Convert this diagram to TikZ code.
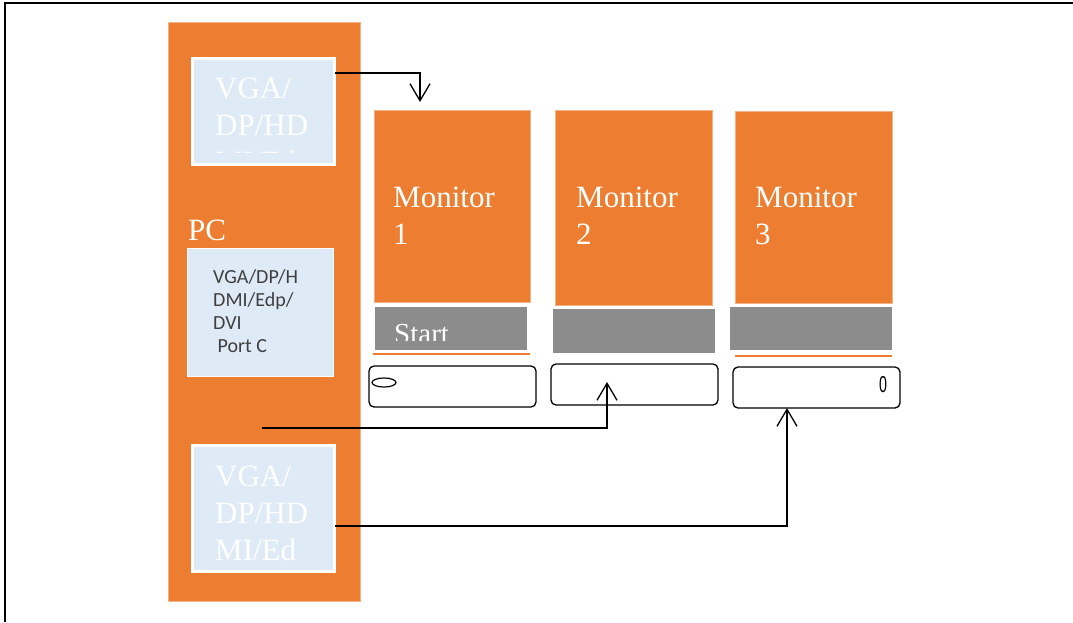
\documentclass[tikz,border=0pt]{standalone}
\usepackage{fontspec}
\usepackage{xcolor}
\usepackage{tikz}
\usetikzlibrary{shapes.geometric,arrows.meta,positioning,calc}
\setmainfont{Liberation Serif}
\newfontfamily\portfont{Carlito}
\newfontfamily\zerofont{Liberation Sans}
\definecolor{BlockOrange}{HTML}{ED7D31}
\definecolor{EdgeOrange}{HTML}{F4B183}
\definecolor{SoftBlue}{HTML}{DEEBF7}
\definecolor{BarGray}{HTML}{8C8C8C}
\definecolor{PortInk}{HTML}{3F3F3F}
\tikzset{
  OB/.style={rectangle,anchor=north west,inner sep=0pt,outer sep=0pt,
             fill=BlockOrange,draw=EdgeOrange,line width=0.6pt},
  VB/.style={rectangle,anchor=north west,inner sep=0pt,outer sep=0pt,
             fill=SoftBlue,draw=white,line width=3.2pt},
  GB/.style={rectangle,anchor=north west,inner sep=0pt,outer sep=0pt,
             fill=BarGray},
  KB/.style={rectangle,anchor=north west,inner sep=0pt,outer sep=0pt,
             rounded corners=5pt,draw=black,line width=1.3pt,
             minimum width=167pt,minimum height=41pt},
  WT/.style={anchor=base west,inner sep=0pt,align=left,text=white,
             font=\fontsize{31}{37}\selectfont},
  PT/.style={anchor=base west,inner sep=0pt,align=left,text=PortInk,
             font=\portfont\fontsize{20}{23}\selectfont},
  OL/.style={draw=BlockOrange,line width=2pt},
  arr/.style={-{Straight Barb[length=17pt,width=20pt,line width=1.3pt]},line width=1.3pt}
}
\begin{document}
\begin{tikzpicture}[x=1pt,y=-1pt]
  \useasboundingbox (0,0) rectangle (1073,622);
  \draw[line width=2.6pt] (5,622) -- (5,3) -- (1073,3);

  % PC column
  \node[OB,minimum width=192pt,minimum height=579pt] (pc) at (168,22) {};
  \node[VB,minimum width=142pt,minimum height=106pt] (vgaA) at (192.5,58.5) {};
  \node[rectangle,anchor=north west,inner sep=0pt,outer sep=0pt,fill=SoftBlue,
        draw=white,line width=0.8pt,minimum width=146pt,minimum height=128pt] (port) at (187,248) {};
  \node[VB,minimum width=142pt,minimum height=126pt] (vgaC) at (192.5,445.5) {};
  % base anchor sits on the last line
  \begin{scope}
    \clip (vgaA.north west) rectangle ([yshift=12pt]vgaA.south east);
    \node[WT] (vgaAtxt) at (215,172) {VGA/\\DP/HD\\MI/Ed};
  \end{scope}
  \node[WT] (vgaCtxt) at (215,560) {VGA/\\DP/HD\\MI/Ed};
  \node[WT] (pctxt) at (188,240) {PC};
  \node[PT] (porttxt) at (213,352) {VGA/DP/H\\DMI/Edp/\\DVI\\\ Port C};

  % monitors
  \node[OB,minimum width=156pt,minimum height=192pt] (monA) at (374,110) {};
  \node[OB,minimum width=157pt,minimum height=195pt] (monB) at (555,110) {};
  \node[OB,minimum width=157pt,minimum height=192pt] (monC) at (735,111) {};
  \node[WT] (monAtxt) at (393,244) {Monitor\\1};
  \node[WT] (monBtxt) at (576,244) {Monitor\\2};
  \node[WT] (monCtxt) at (755,244) {Monitor\\3};

  \node[GB,minimum width=152pt,minimum height=43pt] (barA) at (375,307) {};
  \node[GB,minimum width=162pt,minimum height=44pt] (barB) at (553,309) {};
  \node[GB,minimum width=162pt,minimum height=43pt] (barC) at (730,307) {};
  \begin{scope}
    \clip (barA.north west) rectangle ([yshift=10pt]barA.south east);
    \node[WT,font=\fontsize{29}{35}\selectfont] (starttxt) at (394,343) {Start};
  \end{scope}
  \draw[OL] (373,354) -- (530,354);
  \draw[OL] (735,356) -- (892,356);

  \node[KB] (knobA) at (369,366) {};
  \node[KB] (knobB) at (551,364) {};
  \node[KB] (knobC) at (733,367) {};
  \node[ellipse,draw,line width=1.2pt,inner sep=0pt,minimum width=24pt,minimum height=9pt] (dotA) at (384,382.5) {};
  \node[inner sep=0pt,font=\zerofont\fontsize{23}{23}\selectfont,xscale=0.62] (zeroC) at (883,385) {0};

  \coordinate (tipA) at (420,102);
  \coordinate (startB) at (262,428);

  \draw[arr] ([yshift=38.5pt]vgaA.east) -| (tipA);
  \draw[arr] (startB) -| ([xshift=-27.5pt,yshift=23pt]knobB.south);
  \draw[arr] ([yshift=-17.5pt]vgaC.east) -| ([xshift=-29.5pt]knobC.south);
\end{tikzpicture}
\end{document}
